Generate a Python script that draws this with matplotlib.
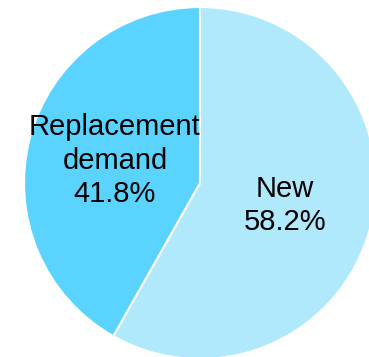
import matplotlib.pyplot as plt

# Dữ liệu
labels = ['New', 'Replacement\ndemand']
shares = [58.2, 41.8]
colors = ['#B0E9FC', '#5BD3FF']

fig = plt.figure(figsize=(3.69, 3.57), dpi=100)
ax = fig.add_axes([24 / 369, -2 / 357, 352 / 369, 352 / 357])

texts = [f'{l}\n{v:.1f}%' for l, v in zip(labels, shares)]
wedges, txts = ax.pie(shares, labels=texts, colors=colors, startangle=90,
                      counterclock=False, labeldistance=0.5, radius=1,
                      wedgeprops=dict(edgecolor='white', linewidth=1.5),
                      textprops=dict(fontsize=21, family='Liberation Sans', color='black'))
for t in txts:
    t.set_horizontalalignment('center')
    t.set_verticalalignment('center')
    t.set_multialignment('center')
    t.set_linespacing(1.25)

ax.set_xlim(-1, 1)
ax.set_ylim(-1, 1)
ax.set_aspect('equal')
ax.axis('off')

fig.savefig('out.png', dpi=100)
